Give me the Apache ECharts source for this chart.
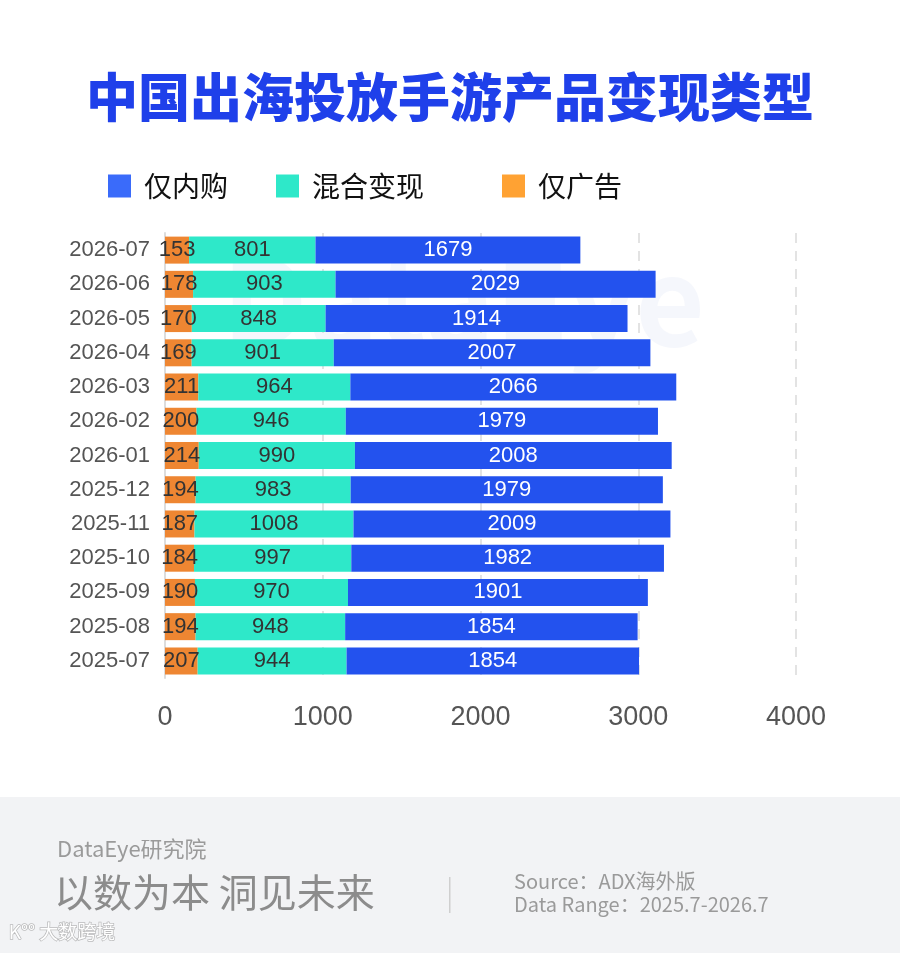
<!DOCTYPE html>
<html>
<head>
    <meta charset="UTF-8">
    <title>中国出海投放手游产品变现类型</title>
    <script src="https://cdn.jsdelivr.net/npm/echarts@6/dist/echarts.min.js"></script>
    <style>
        html, body { margin: 0; padding: 0; background: #fff; }
        #main { width: 900px; height: 953px; }
    </style>
</head>
<body>
<div id="main"></div>
<script>
    // 月份（从下到上）
    var months = ["2025-07", "2025-08", "2025-09", "2025-10", "2025-11", "2025-12",
        "2026-01", "2026-02", "2026-03", "2026-04", "2026-05", "2026-06", "2026-07"];
    var adOnly = [207, 194, 190, 184, 187, 194, 214, 200, 211, 169, 170, 178, 153];
    var hybrid = [944, 948, 970, 997, 1008, 983, 990, 946, 964, 901, 848, 903, 801];
    var iapOnly = [1854, 1854, 1901, 1982, 2009, 1979, 2008, 1979, 2066, 2007, 1914, 2029, 1679];
    var xTicks = [0, 1000, 2000, 3000, 4000];

    var cjk = "'Noto Sans CJK SC', 'Noto Sans', sans-serif";
    var num = "'Liberation Sans', Arial, sans-serif";
    var chart = echarts.init(document.getElementById('main'), null, {renderer: 'canvas'});

    function legendAt(left, name, color) {
        return {
            left: left, top: 167,
            itemWidth: 23, itemHeight: 23,
            icon: 'rect',
            selectedMode: false,
            textStyle: {fontSize: 28, color: '#111', fontFamily: cjk, padding: [0, 0, 0, 8]},
            data: [{name: name, itemStyle: {color: color}}]
        };
    }

    var option = {
        backgroundColor: '#fff',
        animation: false,
        title: {
            text: '中国出海投放手游产品变现类型',
            left: 'center', top: 66,
            textStyle: {fontSize: 52, fontWeight: 900, color: '#1F40EA', fontFamily: cjk}
        },
        legend: [
            legendAt(103, '仅内购', '#3A6BFA'),
            legendAt(271, '混合变现', '#2EE8C9'),
            legendAt(497, '仅广告', '#FFA233')
        ],
        grid: {left: 165, right: 104, top: 233, bottom: 275},
        xAxis: {
            type: 'value',
            min: 0, max: 4000, interval: 1000,
            axisLine: {show: false},
            axisTick: {show: false},
            axisLabel: {
                fontSize: 27, color: '#555', margin: 26, fontFamily: num,
                formatter: function (v) { return xTicks.indexOf(v) >= 0 ? String(v) : ''; }
            },
            splitLine: {lineStyle: {color: '#E3E3E3', type: [10, 8], width: 2}}
        },
        yAxis: {
            type: 'category',
            data: months,
            axisLine: {show: true, lineStyle: {color: '#DDDDDD', width: 2}},
            axisTick: {show: false},
            axisLabel: {fontSize: 22, color: '#555', margin: 15, fontFamily: num}
        },
        graphic: [
            {
                type: 'text', left: 222, top: 240, z: -10, silent: true,
                style: {text: 'DataEye', fontSize: 120, fontWeight: 'bold', fill: 'rgba(236,239,249,0.5)', fontFamily: cjk}
            },
            {
                type: 'rect', left: 0, top: 797, z: -5, silent: true,
                shape: {width: 900, height: 156},
                style: {fill: '#F2F3F5'}
            },
            {
                type: 'text', left: 57, top: 838, silent: true,
                style: {text: 'DataEye研究院', fontSize: 22, fill: '#9A9A9A', fontFamily: cjk}
            },
            {
                type: 'text', left: 54, top: 873, silent: true,
                style: {text: '以数为本 洞见未来', fontSize: 39, fill: '#8C8C8C', fontFamily: cjk}
            },
            {
                type: 'rect', left: 449, top: 877, silent: true,
                shape: {width: 1.5, height: 36},
                style: {fill: '#CFCFCF'}
            },
            {
                type: 'text', left: 514, top: 871, silent: true,
                style: {text: 'Source：ADX海外版', fontSize: 20, fill: '#9A9A9A', fontFamily: cjk}
            },
            {
                type: 'text', left: 514, top: 894, silent: true,
                style: {text: 'Data Range：2025.7-2026.7', fontSize: 20, fill: '#9A9A9A', fontFamily: cjk}
            },
            {
                type: 'text', left: 8, top: 922, silent: true,
                style: {
                    text: 'K°° 大数跨境', fontSize: 19, fill: '#FFFFFF', fontFamily: cjk,
                    stroke: 'rgba(150,150,150,0.6)', lineWidth: 1.5
                }
            }
        ],
        series: [
            {
                name: '仅广告', type: 'bar', stack: 'total', data: adOnly,
                barWidth: 27,
                itemStyle: {color: '#EE8632'},
                label: {show: true, position: 'inside', fontSize: 22, color: '#333', fontFamily: num}
            },
            {
                name: '混合变现', type: 'bar', stack: 'total', data: hybrid,
                barWidth: 27,
                itemStyle: {color: '#2EE8C9'},
                label: {show: true, position: 'inside', fontSize: 22, color: '#333', fontFamily: num}
            },
            {
                name: '仅内购', type: 'bar', stack: 'total', data: iapOnly,
                barWidth: 27,
                itemStyle: {color: '#2352EE'},
                label: {show: true, position: 'inside', fontSize: 22, color: '#fff', fontFamily: num}
            }
        ]
    };

    chart.setOption(option);
</script>
</body>
</html>
